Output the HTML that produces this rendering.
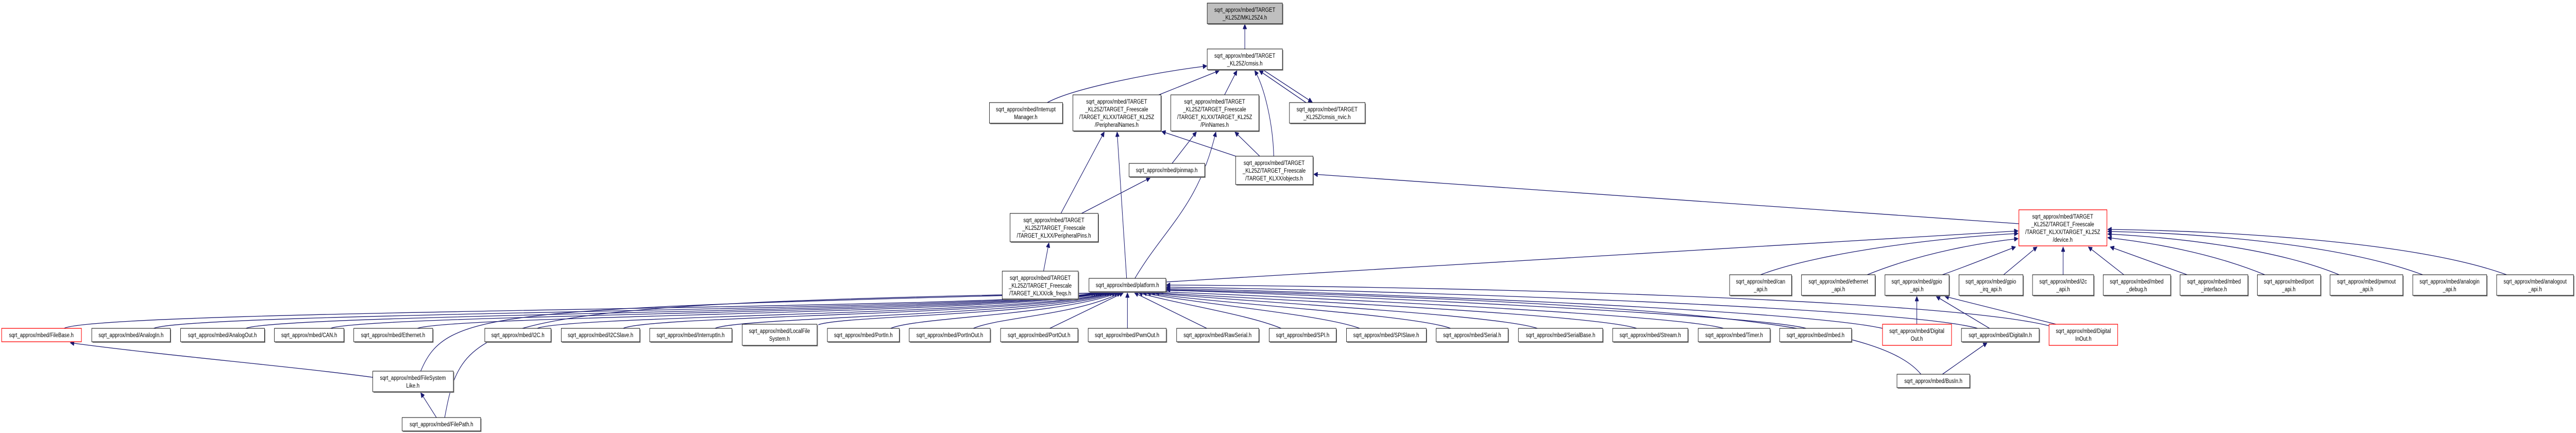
<!DOCTYPE html>
<html><head><meta charset="utf-8"><style>
html,body{margin:0;padding:0;background:#fff;width:100%;height:100%;overflow:hidden;}
svg{display:block;width:100vw;height:100vh}
text{font-family:"Liberation Sans",sans-serif;font-size:12px;fill:#000;text-anchor:middle}
.e{fill:none;stroke:#191970;stroke-width:1.3}
.b{fill:#fff;stroke:#000;stroke-width:1}
.s{fill:#888;stroke:none}
.r{fill:#fff;stroke:#ff0000;stroke-width:1.3}
</style></head><body>
<svg viewBox="0 0 6233 840" preserveAspectRatio="none" xmlns="http://www.w3.org/2000/svg">
<defs><marker id="a" markerUnits="userSpaceOnUse" markerWidth="12" markerHeight="9" viewBox="0 0 10 10" refX="10" refY="5" orient="auto"><path d="M0,0L10,5L0,10z" fill="#191970" stroke="#191970"/></marker></defs>

<g class="e" marker-end="url(#a)">
<path d="M3012,95 L3012,47"/>
<path d="M2534,199 C2600,170 2800,140 2920,128"/>
<path d="M2804,184 L2950,137"/>
<path d="M2963,184 L2993,137"/>
<path d="M3082,303 C3080,240 3060,170 3036,137"/>
<path d="M3160,199 L3047,137"/>
<path d="M3057,136 L3175,198"/>
<path d="M2567,414 L2672,256"/>
<path d="M2617,414 L2783,345"/>
<path d="M2525,526 L2538,471"/>
<path d="M2726,540 L2703,256"/>
<path d="M2746,540 C2820,440 2900,400 2942,256"/>
<path d="M2836,317 L2895,256"/>
<path d="M3048,303 L2988,256"/>
<path d="M2990,303 L2811,255"/>
<path d="M4885,434 L3179,338"/>
<path d="M2821,547 L4883,448"/>
<path d="M4260,533 C4400,490 4700,460 4883,453"/>
<path d="M4518,533 C4650,490 4800,470 4883,463"/>
<path d="M4700,533 C4780,510 4840,490 4877,479"/>
<path d="M4848,533 L4929,479"/>
<path d="M4992,533 L4992,479"/>
<path d="M5139,533 L5053,479"/>
<path d="M5292,533 L5106,479"/>
<path d="M5480,533 C5350,490 5200,470 5100,461"/>
<path d="M5660,533 C5500,480 5250,460 5100,454"/>
<path d="M5862,533 C5650,470 5300,452 5100,449"/>
<path d="M6065,533 C5850,470 5400,448 5100,445"/>
<path d="M4638,629 L4638,575"/>
<path d="M4814,637 L4685,575"/>
<path d="M4975,629 L4706,575"/>
<path d="M4700,726 L4808,665"/>
<path d="M902,732 C700,710 400,690 170,665"/>
<path d="M1056,810 L1018,762"/>
<path d="M155,637 C240,600 2480,600 2650,568"/>
<path d="M372,637 C460,605 2480,602 2655,568"/>
<path d="M595,637 C680,608 2480,604 2660,568"/>
<path d="M800,637 C880,610 2480,606 2665,568"/>
<path d="M1010,637 C1090,612 2480,608 2670,568"/>
<path d="M1018,720 C1080,600 1200,600 2675,568"/>
<path d="M1076,810 C1120,620 1150,590 2678,568"/>
<path d="M1300,637 C1370,612 2500,610 2682,568"/>
<path d="M1508,637 C1570,612 2500,612 2688,568"/>
<path d="M1730,637 C1790,615 2520,612 2694,568"/>
<path d="M1980,630 C2040,612 2540,612 2700,568"/>
<path d="M2155,637 C2220,615 2560,612 2706,568"/>
<path d="M2355,637 C2420,615 2600,612 2712,568"/>
<path d="M2540,637 L2718,568"/>
<path d="M2728,637 L2728,568"/>
<path d="M2920,637 L2745,568"/>
<path d="M3100,637 C3020,610 2850,590 2755,568"/>
<path d="M3290,637 C3200,610 2900,590 2765,568"/>
<path d="M3510,637 C3420,610 2950,590 2775,568"/>
<path d="M3720,637 C3620,610 3000,585 2785,568"/>
<path d="M3960,637 C3860,610 3050,580 2795,568"/>
<path d="M4170,637 C4060,610 3100,575 2805,566"/>
<path d="M4370,637 C4250,610 3150,570 2815,563"/>
<path d="M4555,637 C4350,600 3200,565 2822,560"/>
<path d="M4785,637 C4600,595 3300,562 2822,557"/>
<path d="M4958,632 C4700,580 3500,555 2822,553"/>
<path d="M4648,726 C4560,640 4200,590 2822,562"/>
</g>

<g>
<rect class="s" x="2923" y="8" width="182" height="40"/><rect x="2921" y="6" width="182" height="40" fill="#bfbfbf" stroke="#000"/>
<text x="3012" y="23">sqrt_approx/mbed/TARGET</text><text x="3012" y="38">_KL25Z/MKL25Z4.h</text>

<rect class="s" x="2923" y="97" width="182" height="40"/><rect class="b" x="2921" y="95" width="182" height="40"/>
<text x="3012" y="112">sqrt_approx/mbed/TARGET</text><text x="3012" y="127">_KL25Z/cmsis.h</text>

<rect class="s" x="2396" y="201" width="177" height="40"/><rect class="b" x="2394" y="199" width="177" height="40"/>
<text x="2482" y="216">sqrt_approx/mbed/Interrupt</text><text x="2482" y="231">Manager.h</text>

<rect class="s" x="2598" y="186" width="213" height="70"/><rect class="b" x="2596" y="184" width="213" height="70"/>
<text x="2702" y="201">sqrt_approx/mbed/TARGET</text><text x="2702" y="216">_KL25Z/TARGET_Freescale</text><text x="2702" y="231">/TARGET_KLXX/TARGET_KL25Z</text><text x="2702" y="246">/PeripheralNames.h</text>

<rect class="s" x="2835" y="186" width="213" height="70"/><rect class="b" x="2833" y="184" width="213" height="70"/>
<text x="2939" y="201">sqrt_approx/mbed/TARGET</text><text x="2939" y="216">_KL25Z/TARGET_Freescale</text><text x="2939" y="231">/TARGET_KLXX/TARGET_KL25Z</text><text x="2939" y="246">/PinNames.h</text>

<rect class="s" x="3122" y="201" width="183" height="40"/><rect class="b" x="3120" y="199" width="183" height="40"/>
<text x="3211" y="216">sqrt_approx/mbed/TARGET</text><text x="3211" y="231">_KL25Z/cmsis_nvic.h</text>

<rect class="s" x="2734" y="319" width="183" height="26"/><rect class="b" x="2732" y="317" width="183" height="26"/>
<text x="2823" y="334">sqrt_approx/mbed/pinmap.h</text>

<rect class="s" x="2992" y="305" width="187" height="55"/><rect class="b" x="2990" y="303" width="187" height="55"/>
<text x="3083" y="320">sqrt_approx/mbed/TARGET</text><text x="3083" y="335">_KL25Z/TARGET_Freescale</text><text x="3083" y="350">/TARGET_KLXX/objects.h</text>

<rect class="s" x="2446" y="416" width="213" height="55"/><rect class="b" x="2444" y="414" width="213" height="55"/>
<text x="2550" y="431">sqrt_approx/mbed/TARGET</text><text x="2550" y="446">_KL25Z/TARGET_Freescale</text><text x="2550" y="461">/TARGET_KLXX/PeripheralPins.h</text>

<rect class="s" x="2427" y="528" width="184" height="54"/><rect class="b" x="2425" y="526" width="184" height="54"/>
<text x="2517" y="543">sqrt_approx/mbed/TARGET</text><text x="2517" y="558">_KL25Z/TARGET_Freescale</text><text x="2517" y="573">/TARGET_KLXX/clk_freqs.h</text>

<rect class="s" x="2637" y="542" width="186" height="26"/><rect class="b" x="2635" y="540" width="186" height="26"/>
<text x="2728" y="557">sqrt_approx/mbed/platform.h</text>

<rect class="r" x="4885" y="407" width="213" height="70"/>
<text x="4991" y="424">sqrt_approx/mbed/TARGET</text><text x="4991" y="439">_KL25Z/TARGET_Freescale</text><text x="4991" y="454">/TARGET_KLXX/TARGET_KL25Z</text><text x="4991" y="469">/device.h</text>
</g>

<g>
<rect class="s" x="4187" y="535" width="150" height="40"/><rect class="b" x="4185" y="533" width="150" height="40"/><text x="4260" y="550">sqrt_approx/mbed/can</text><text x="4260" y="565">_api.h</text>
<rect class="s" x="4361" y="535" width="178" height="40"/><rect class="b" x="4359" y="533" width="178" height="40"/><text x="4448" y="550">sqrt_approx/mbed/ethernet</text><text x="4448" y="565">_api.h</text>
<rect class="s" x="4563" y="535" width="155" height="40"/><rect class="b" x="4561" y="533" width="155" height="40"/><text x="4638" y="550">sqrt_approx/mbed/gpio</text><text x="4638" y="565">_api.h</text>
<rect class="s" x="4742" y="535" width="155" height="40"/><rect class="b" x="4740" y="533" width="155" height="40"/><text x="4817" y="550">sqrt_approx/mbed/gpio</text><text x="4817" y="565">_irq_api.h</text>
<rect class="s" x="4920" y="535" width="148" height="40"/><rect class="b" x="4918" y="533" width="148" height="40"/><text x="4992" y="550">sqrt_approx/mbed/i2c</text><text x="4992" y="565">_api.h</text>
<rect class="s" x="5091" y="535" width="163" height="40"/><rect class="b" x="5089" y="533" width="163" height="40"/><text x="5170" y="550">sqrt_approx/mbed/mbed</text><text x="5170" y="565">_debug.h</text>
<rect class="s" x="5277" y="535" width="164" height="40"/><rect class="b" x="5275" y="533" width="164" height="40"/><text x="5357" y="550">sqrt_approx/mbed/mbed</text><text x="5357" y="565">_interface.h</text>
<rect class="s" x="5464" y="535" width="153" height="40"/><rect class="b" x="5462" y="533" width="153" height="40"/><text x="5538" y="550">sqrt_approx/mbed/port</text><text x="5538" y="565">_api.h</text>
<rect class="s" x="5640" y="535" width="176" height="40"/><rect class="b" x="5638" y="533" width="176" height="40"/><text x="5726" y="550">sqrt_approx/mbed/pwmout</text><text x="5726" y="565">_api.h</text>
<rect class="s" x="5840" y="535" width="179" height="40"/><rect class="b" x="5838" y="533" width="179" height="40"/><text x="5927" y="550">sqrt_approx/mbed/analogin</text><text x="5927" y="565">_api.h</text>
<rect class="s" x="6043" y="535" width="186" height="40"/><rect class="b" x="6041" y="533" width="186" height="40"/><text x="6134" y="550">sqrt_approx/mbed/analogout</text><text x="6134" y="565">_api.h</text>
</g>

<g>
<rect class="r" x="4" y="637" width="193" height="26"/><text x="100" y="654">sqrt_approx/mbed/FileBase.h</text>
<rect class="s" x="224" y="639" width="190" height="26"/><rect class="b" x="222" y="637" width="190" height="26"/><text x="317" y="654">sqrt_approx/mbed/AnalogIn.h</text>
<rect class="s" x="439" y="639" width="203" height="26"/><rect class="b" x="437" y="637" width="203" height="26"/><text x="538" y="654">sqrt_approx/mbed/AnalogOut.h</text>
<rect class="s" x="666" y="639" width="168" height="26"/><rect class="b" x="664" y="637" width="168" height="26"/><text x="748" y="654">sqrt_approx/mbed/CAN.h</text>
<rect class="s" x="858" y="639" width="191" height="26"/><rect class="b" x="856" y="637" width="191" height="26"/><text x="951" y="654">sqrt_approx/mbed/Ethernet.h</text>
<rect class="s" x="1175" y="639" width="160" height="26"/><rect class="b" x="1173" y="637" width="160" height="26"/><text x="1253" y="654">sqrt_approx/mbed/I2C.h</text>
<rect class="s" x="1360" y="639" width="190" height="26"/><rect class="b" x="1358" y="637" width="190" height="26"/><text x="1453" y="654">sqrt_approx/mbed/I2CSlave.h</text>
<rect class="s" x="1574" y="639" width="199" height="26"/><rect class="b" x="1572" y="637" width="199" height="26"/><text x="1671" y="654">sqrt_approx/mbed/InterruptIn.h</text>
<rect class="s" x="1798" y="631" width="181" height="41"/><rect class="b" x="1796" y="629" width="181" height="41"/><text x="1886" y="646">sqrt_approx/mbed/LocalFile</text><text x="1886" y="661">System.h</text>
<rect class="s" x="2004" y="639" width="174" height="26"/><rect class="b" x="2002" y="637" width="174" height="26"/><text x="2089" y="654">sqrt_approx/mbed/PortIn.h</text>
<rect class="s" x="2202" y="639" width="196" height="26"/><rect class="b" x="2200" y="637" width="196" height="26"/><text x="2298" y="654">sqrt_approx/mbed/PortInOut.h</text>
<rect class="s" x="2423" y="639" width="187" height="26"/><rect class="b" x="2421" y="637" width="187" height="26"/><text x="2514" y="654">sqrt_approx/mbed/PortOut.h</text>
<rect class="s" x="2635" y="639" width="189" height="26"/><rect class="b" x="2633" y="637" width="189" height="26"/><text x="2727" y="654">sqrt_approx/mbed/PwmOut.h</text>
<rect class="s" x="2849" y="639" width="199" height="26"/><rect class="b" x="2847" y="637" width="199" height="26"/><text x="2946" y="654">sqrt_approx/mbed/RawSerial.h</text>
<rect class="s" x="3073" y="639" width="162" height="26"/><rect class="b" x="3071" y="637" width="162" height="26"/><text x="3152" y="654">sqrt_approx/mbed/SPI.h</text>
<rect class="s" x="3260" y="639" width="193" height="26"/><rect class="b" x="3258" y="637" width="193" height="26"/><text x="3354" y="654">sqrt_approx/mbed/SPISlave.h</text>
<rect class="s" x="3477" y="639" width="174" height="26"/><rect class="b" x="3475" y="637" width="174" height="26"/><text x="3562" y="654">sqrt_approx/mbed/Serial.h</text>
<rect class="s" x="3676" y="639" width="204" height="26"/><rect class="b" x="3674" y="637" width="204" height="26"/><text x="3776" y="654">sqrt_approx/mbed/SerialBase.h</text>
<rect class="s" x="3904" y="639" width="182" height="26"/><rect class="b" x="3902" y="637" width="182" height="26"/><text x="3993" y="654">sqrt_approx/mbed/Stream.h</text>
<rect class="s" x="4111" y="639" width="174" height="26"/><rect class="b" x="4109" y="637" width="174" height="26"/><text x="4196" y="654">sqrt_approx/mbed/Timer.h</text>
<rect class="s" x="4308" y="639" width="174" height="26"/><rect class="b" x="4306" y="637" width="174" height="26"/><text x="4393" y="654">sqrt_approx/mbed/mbed.h</text>
<rect class="r" x="4555" y="629" width="167" height="41"/><text x="4638" y="646">sqrt_approx/mbed/Digital</text><text x="4638" y="661">Out.h</text>
<rect class="s" x="4748" y="639" width="188" height="26"/><rect class="b" x="4746" y="637" width="188" height="26"/><text x="4840" y="654">sqrt_approx/mbed/DigitalIn.h</text>
<rect class="r" x="4958" y="629" width="166" height="41"/><text x="5041" y="646">sqrt_approx/mbed/Digital</text><text x="5041" y="661">InOut.h</text>
<rect class="s" x="904" y="722" width="195" height="40"/><rect class="b" x="902" y="720" width="195" height="40"/><text x="999" y="737">sqrt_approx/mbed/FileSystem</text><text x="999" y="752">Like.h</text>
<rect class="s" x="975" y="812" width="190" height="26"/><rect class="b" x="973" y="810" width="190" height="26"/><text x="1068" y="827">sqrt_approx/mbed/FilePath.h</text>
<rect class="s" x="4592" y="728" width="176" height="26"/><rect class="b" x="4590" y="726" width="176" height="26"/><text x="4678" y="743">sqrt_approx/mbed/BusIn.h</text>
</g>
</svg>
</body></html>
